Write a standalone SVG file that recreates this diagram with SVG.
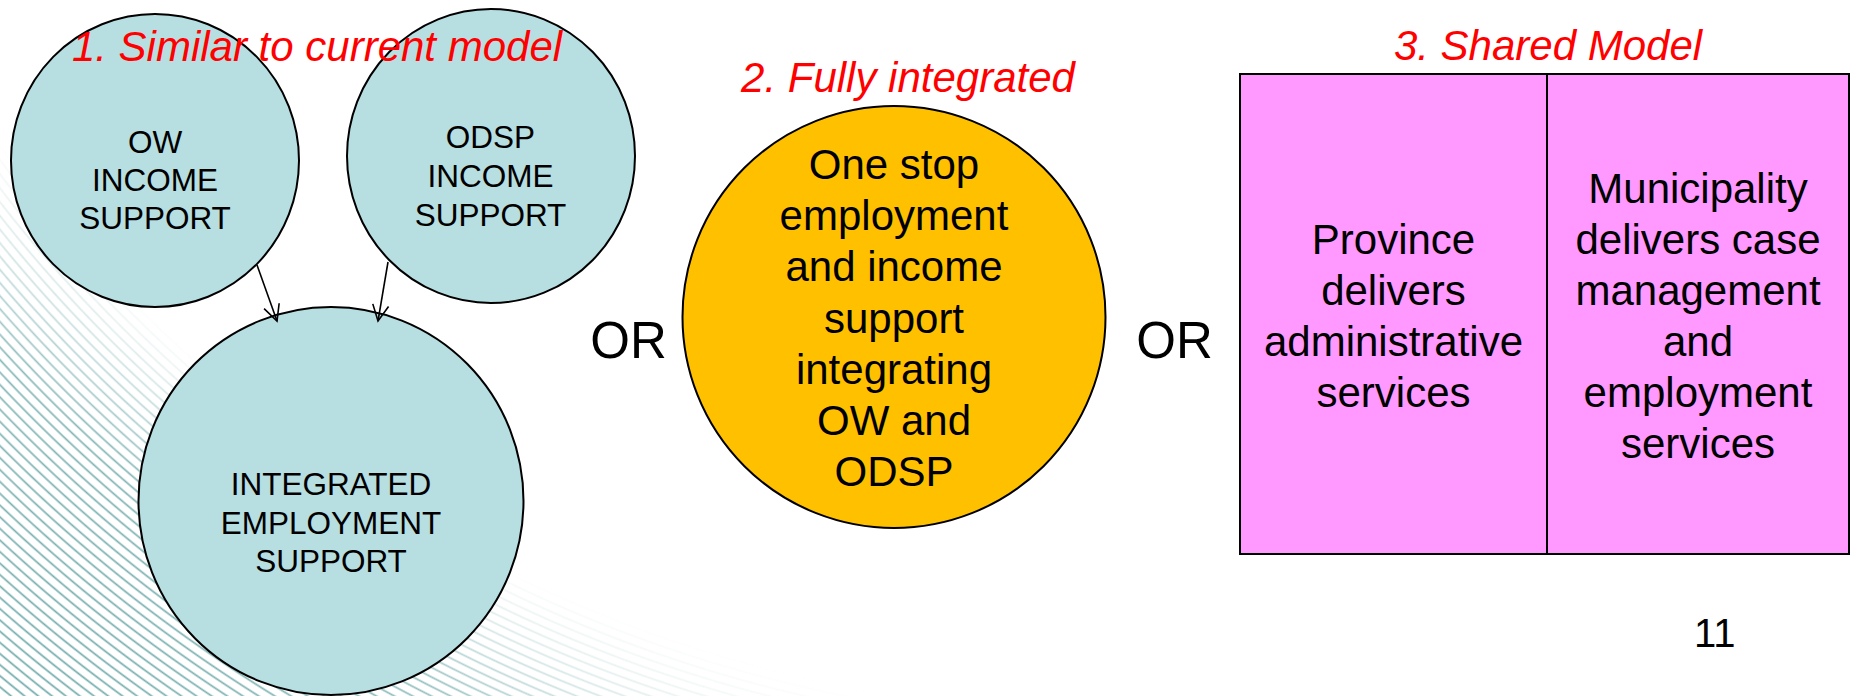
<svg xmlns="http://www.w3.org/2000/svg" width="1852" height="696" viewBox="0 0 1852 696">
  <style>
    .lbl { font-family: "Liberation Sans", Arial, sans-serif; fill: #000; text-anchor: middle; }
    .sm { font-size: 31.5px; }
    .lg { font-size: 42px; }
    .or { font-size: 51px; }
    .title { font-family: "Liberation Sans", Arial, sans-serif; font-size: 42px; font-style: italic; fill: #FF0000; text-anchor: middle; }
    .blue { fill: #B7DEE1; stroke: #000; stroke-width: 2; }
    .orange { fill: #FFC000; stroke: #000; stroke-width: 2; }
    .pink { fill: #FF99FF; stroke: #000; stroke-width: 2; }
    .conn { fill: none; stroke: #000; stroke-width: 1.6; marker-end: url(#open); }
  </style>
  <defs>
    <marker id="open" markerUnits="userSpaceOnUse" viewBox="-18 -10 20 20" refX="0" refY="0" markerWidth="20" markerHeight="20" orient="auto">
      <path d="M-16,-8 L0,0 L-16,8" fill="none" stroke="#000" stroke-width="1.6"/>
    </marker>
    <radialGradient id="rings" gradientUnits="userSpaceOnUse" cx="1117" cy="-667" r="8.5" spreadMethod="repeat">
      <stop offset="0" stop-color="#6ea9a9" stop-opacity="0"/>
      <stop offset="0.3" stop-color="#6ea9a9" stop-opacity="0"/>
      <stop offset="0.5" stop-color="#6ea9a9" stop-opacity="1"/>
      <stop offset="0.7" stop-color="#6ea9a9" stop-opacity="0"/>
      <stop offset="1" stop-color="#6ea9a9" stop-opacity="0"/>
    </radialGradient>
    <radialGradient id="fadeA" gradientUnits="userSpaceOnUse" cx="0" cy="720" r="1050">
      <stop offset="0" stop-color="#fff"/>
      <stop offset="0.35" stop-color="#d0d0d0"/>
      <stop offset="0.7" stop-color="#404040"/>
      <stop offset="1" stop-color="#000"/>
    </radialGradient>
    <radialGradient id="fadeB" gradientUnits="userSpaceOnUse" cx="1117" cy="-667" r="1800">
      <stop offset="0" stop-color="#000"/>
      <stop offset="0.765" stop-color="#000"/>
      <stop offset="0.84" stop-color="#fff"/>
      <stop offset="1" stop-color="#fff"/>
    </radialGradient>
    <mask id="mA" maskUnits="userSpaceOnUse" x="0" y="0" width="1852" height="696">
      <rect x="0" y="0" width="1852" height="696" fill="url(#fadeA)"/>
    </mask>
    <mask id="mB" maskUnits="userSpaceOnUse" x="0" y="0" width="1852" height="696">
      <rect x="0" y="0" width="1852" height="696" fill="url(#fadeB)"/>
    </mask>
  </defs>

  <rect x="0" y="0" width="1852" height="696" fill="#fff"/>
  <g id="background" mask="url(#mA)">
    <rect x="0" y="0" width="1852" height="696" fill="url(#rings)" mask="url(#mB)"/>
  </g>

  <g id="node-ow">
    <ellipse class="blue" cx="155" cy="160.5" rx="144" ry="146.5"/>
    <text class="lbl sm"><tspan x="155" y="153">OW</tspan><tspan x="155" y="191">INCOME</tspan><tspan x="155" y="229">SUPPORT</tspan></text>
  </g>
  <g id="node-odsp">
    <ellipse class="blue" cx="491" cy="156" rx="144" ry="147"/>
    <text class="lbl sm"><tspan x="490.5" y="148">ODSP</tspan><tspan x="490.5" y="187">INCOME</tspan><tspan x="490.5" y="226">SUPPORT</tspan></text>
  </g>
  <g id="node-integrated">
    <ellipse class="blue" cx="331" cy="501" rx="192.5" ry="194"/>
    <text class="lbl sm"><tspan x="331" y="495">INTEGRATED</tspan><tspan x="331" y="534">EMPLOYMENT</tspan><tspan x="331" y="572">SUPPORT</tspan></text>
  </g>

  <g id="connectors">
    <path class="conn" d="M257,265 L277,321"/>
    <path class="conn" d="M388,262 L378,321"/>
  </g>

  <g id="node-onestop">
    <ellipse class="orange" cx="894" cy="317" rx="211.5" ry="211"/>
    <text class="lbl lg"><tspan x="894" y="179">One stop</tspan><tspan x="894" y="230.2">employment</tspan><tspan x="894" y="281.4">and income</tspan><tspan x="894" y="332.6">support</tspan><tspan x="894" y="383.8">integrating</tspan><tspan x="894" y="435">OW and</tspan><tspan x="894" y="486.2">ODSP</tspan></text>
  </g>

  <g id="node-shared">
    <rect class="pink" x="1240" y="74" width="609" height="480"/>
    <line x1="1547" y1="74" x2="1547" y2="554" stroke="#000" stroke-width="2"/>
    <text class="lbl lg"><tspan x="1393.5" y="253.5">Province</tspan><tspan x="1393.5" y="304.5">delivers</tspan><tspan x="1393.5" y="355.5">administrative</tspan><tspan x="1393.5" y="406.5">services</tspan></text>
    <text class="lbl lg"><tspan x="1698" y="202.5">Municipality</tspan><tspan x="1698" y="253.5">delivers case</tspan><tspan x="1698" y="304.5">management</tspan><tspan x="1698" y="355.5">and</tspan><tspan x="1698" y="406.5">employment</tspan><tspan x="1698" y="457.5">services</tspan></text>
  </g>

  <g id="titles">
    <text class="title" x="317" y="61">1. Similar to current model</text>
    <text class="title" x="908" y="92">2. Fully integrated</text>
    <text class="title" x="1548" y="60">3. Shared Model</text>
  </g>

  <g id="or-labels">
    <text class="lbl or" x="628.5" y="358">OR</text>
    <text class="lbl or" x="1174.5" y="358">OR</text>
  </g>

  <text id="page-number" class="lbl" style="font-size:40px;text-anchor:start" x="1694" y="647">11</text>
</svg>
